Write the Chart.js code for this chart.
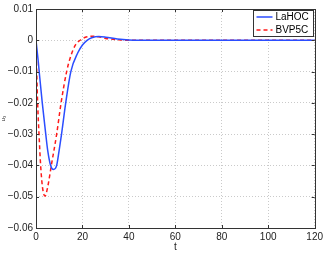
<!DOCTYPE html>
<html lang="en">
<head>
    <meta charset="UTF-8">
    <title>LaHOC vs BVP5C</title>
    <style>
        body {
            margin: 0;
            background-color: white;
        }
        #wrap {
            width: 326px;
            height: 253px;
        }
    </style>
</head>
<body>
    <div id="wrap"><canvas id="chart" width="326" height="253"></canvas></div>

    <script src="https://cdn.jsdelivr.net/npm/chart.js"></script>
    <script>
        // Series values
        const seriesNames = ['LaHOC', 'BVP5C'];

        const lahocT = [0, 1, 1.5, 2.7, 4.2, 5, 6.3, 7.5, 8.9, 10, 11, 12.8, 15, 18, 20, 22, 24, 27, 30, 35, 40, 50, 120];
        const lahocU = [0, -0.007, -0.011, -0.020, -0.030, -0.035, -0.040, -0.0413, -0.040, -0.035, -0.030, -0.020, -0.010,
            -0.004, -0.0015, 0, 0.0008, 0.0012, 0.001, 0.0004, 0.0001, 0, 0];

        const bvpT = [0, 0.3, 0.7, 1.3, 2, 2.8, 3.9, 5, 6.6, 8.9, 10.8, 13.2, 15, 17, 19, 21, 24, 27, 30, 35, 40, 120];
        const bvpU = [0, -0.010, -0.020, -0.030, -0.040, -0.047, -0.0498, -0.047, -0.040, -0.030, -0.020, -0.010, -0.005,
            -0.0015, 0, 0.0009, 0.0013, 0.0011, 0.0006, 0.0002, 0, 0];

        // Axis ticks
        const xTicks = [0, 20, 40, 60, 80, 100, 120];
        const yTicks = [0.01, 0, -0.01, -0.02, -0.03, -0.04, -0.05, -0.06];

        const toPoints = (ts, us) => ts.map((t, i) => ({ x: t, y: us[i] }));

        function fmtY(v) {
            const r = Math.round(v * 100) / 100;
            if (r === 0) return '0';
            return (r < 0 ? '\u2212' : '') + Math.abs(r).toFixed(2);
        }

        // Frame, inward ticks and legend box like the original figure
        const framePlugin = {
            id: 'frame',
            afterDraw(chart) {
                const ctx = chart.ctx;
                const a = chart.chartArea;
                const xs = chart.scales.x, ys = chart.scales.y;
                ctx.save();
                ctx.strokeStyle = '#333';
                ctx.lineWidth = 1;
                ctx.setLineDash([]);
                ctx.strokeRect(Math.round(a.left) + 0.5, Math.round(a.top) + 0.5,
                    Math.round(a.right - a.left), Math.round(a.bottom - a.top));
                ctx.beginPath();
                xTicks.forEach(t => {
                    const px = Math.round(xs.getPixelForValue(t)) + 0.5;
                    ctx.moveTo(px, a.bottom); ctx.lineTo(px, a.bottom - 3);
                    ctx.moveTo(px, a.top); ctx.lineTo(px, a.top + 3);
                });
                yTicks.forEach(v => {
                    const py = Math.round(ys.getPixelForValue(v)) + 0.5;
                    ctx.moveTo(a.left, py); ctx.lineTo(a.left + 3, py);
                    ctx.moveTo(a.right, py); ctx.lineTo(a.right - 3, py);
                });
                ctx.stroke();

                // legend
                const bx = 253.5, by = 10.5, bw = 60, bh = 26;
                ctx.fillStyle = 'white';
                ctx.fillRect(bx, by, bw, bh);
                ctx.strokeStyle = '#333';
                ctx.strokeRect(bx, by, bw, bh);
                ctx.font = '10px "Liberation Sans", Arial, sans-serif';
                ctx.textBaseline = 'middle';
                chart.data.datasets.forEach((ds, i) => {
                    const ly = by + 6.5 + i * 13;
                    ctx.strokeStyle = ds.borderColor;
                    ctx.lineWidth = 1.5;
                    ctx.setLineDash(ds.borderDash || []);
                    ctx.beginPath();
                    ctx.moveTo(bx + 3, ly); ctx.lineTo(bx + 19, ly);
                    ctx.stroke();
                    ctx.setLineDash([]);
                    ctx.fillStyle = '#000';
                    ctx.fillText(ds.label, bx + 22, ly + 0.5);
                });
                ctx.restore();
            }
        };

        const ctx = document.getElementById('chart').getContext('2d');
        new Chart(ctx, {
            type: 'line',
            data: {
                datasets: [
                    {
                        label: seriesNames[0],
                        data: toPoints(lahocT, lahocU),
                        borderColor: '#2b4dff',
                        borderWidth: 1.5,
                        pointRadius: 0,
                        cubicInterpolationMode: 'monotone',
                        fill: false
                    },
                    {
                        label: seriesNames[1],
                        data: toPoints(bvpT, bvpU),
                        borderColor: '#ff1a1a',
                        borderWidth: 1.5,
                        borderDash: [4, 3],
                        pointRadius: 0,
                        cubicInterpolationMode: 'monotone',
                        fill: false
                    }
                ]
            },
            options: {
                responsive: false,
                animation: false,
                layout: { padding: { top: 7, right: 11, left: 0, bottom: 0 } },
                plugins: {
                    legend: { display: false },
                    tooltip: { enabled: false }
                },
                scales: {
                    x: {
                        type: 'linear',
                        min: 0,
                        max: 120,
                        afterBuildTicks: s => { s.ticks = xTicks.map(v => ({ value: v })); },
                        afterFit: s => { s.height = 25; },
                        grid: { color: '#bdbdbd', lineWidth: 0.8, drawTicks: false },
                        border: { display: false, dash: [1, 2] },
                        ticks: {
                            padding: 3,
                            color: '#222',
                            maxRotation: 0,
                            font: { family: '"Liberation Sans", Arial, sans-serif', size: 10 }
                        },
                        title: {
                            display: true,
                            text: 't',
                            color: '#222',
                            padding: 0,
                            font: { family: '"Liberation Sans", Arial, sans-serif', size: 10 }
                        }
                    },
                    y: {
                        type: 'linear',
                        min: -0.06,
                        max: 0.01,
                        afterBuildTicks: s => { s.ticks = yTicks.map(v => ({ value: v })); },
                        afterFit: s => { s.width = 36; },
                        grid: { color: '#bdbdbd', lineWidth: 0.8, drawTicks: false },
                        border: { display: false, dash: [1, 2] },
                        ticks: {
                            padding: 3,
                            color: '#222',
                            callback: v => fmtY(v),
                            font: { family: '"Liberation Sans", Arial, sans-serif', size: 10 }
                        },
                        title: {
                            display: true,
                            text: 'u\u2083',
                            color: '#222',
                            padding: 0,
                            font: { family: '"Liberation Sans", Arial, sans-serif', size: 6 }
                        }
                    }
                }
            },
            plugins: [framePlugin]
        });
    </script>
</body>
</html>
